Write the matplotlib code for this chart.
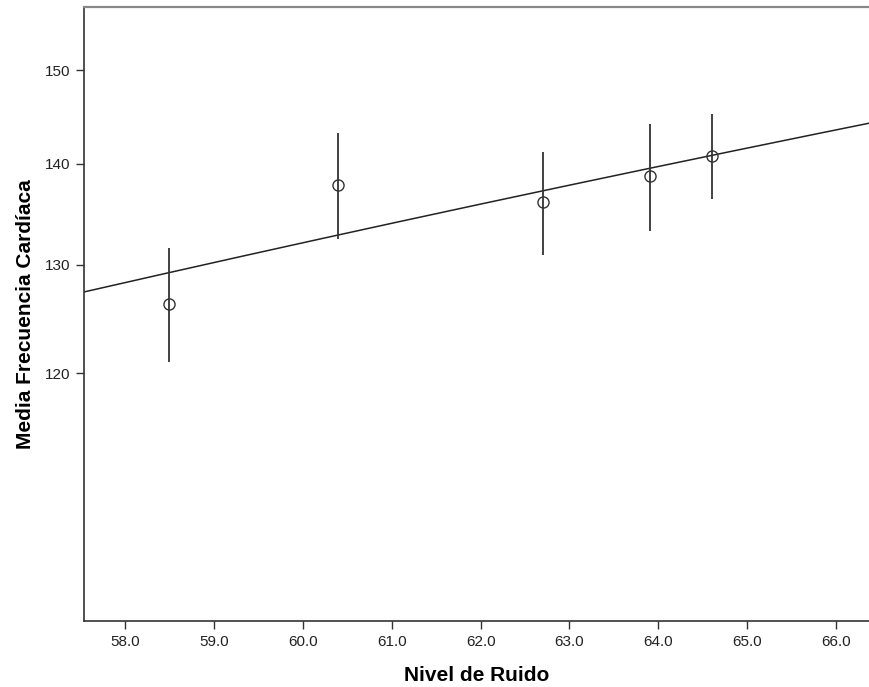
import matplotlib
matplotlib.use("Agg")
import matplotlib.pyplot as plt
import numpy as np
from matplotlib.ticker import FixedLocator, NullLocator, FixedFormatter

plt.rcParams['font.family'] = ['Liberation Sans', 'DejaVu Sans']

# datos
nivel_ruido = [58.5, 60.4, 62.7, 63.9, 64.6]
media_fc = [126.3, 137.8, 136.1, 138.8, 140.8]
ic_inf = [121.0, 132.5, 130.9, 133.3, 136.4]
ic_sup = [131.6, 143.2, 141.2, 144.2, 145.2]

x_ticks = [58.0, 59.0, 60.0, 61.0, 62.0, 63.0, 64.0, 65.0, 66.0]
y_ticks = [120, 130, 140, 150]

x = np.array(nivel_ruido)
y = np.array(media_fc)
err = [y - np.array(ic_inf), np.array(ic_sup) - y]

fig = plt.figure(figsize=(8.7, 6.87), dpi=100)
ax = fig.add_axes([0.0966, 0.0955, 0.9034, 0.894])

xmin, xmax = 57.54, 66.38
ax.set_xlim(xmin, xmax)
ax.set_yscale('log')
ax.set_ylim(100, 157.1)

# recta de ajuste lineal
b, a = np.polyfit(x, y, 1)
xx = np.linspace(xmin, xmax, 200)
ax.plot(xx, a + b * xx, color='#222222', lw=1.1, zorder=2)

ax.errorbar(x, y, yerr=err, fmt='o', mfc='none', mec='#333333', mew=1.0,
            ms=8, ecolor='#333333', elinewidth=1.3, capsize=0, zorder=3)

ax.yaxis.set_major_locator(FixedLocator(y_ticks))
ax.yaxis.set_major_formatter(FixedFormatter([str(t) for t in y_ticks]))
ax.yaxis.set_minor_locator(NullLocator())
ax.set_xticks(x_ticks)
ax.set_xticklabels([f"{t:.1f}" for t in x_ticks])

ax.tick_params(axis='both', direction='out', length=6, width=1.0,
               color='#333333', labelsize=11, labelcolor='#222222', pad=4)

for s in ['left', 'bottom']:
    ax.spines[s].set_color('#333333')
    ax.spines[s].set_linewidth(1.2)
ax.spines['top'].set_color('#888888')
ax.spines['top'].set_linewidth(1.6)
ax.spines['right'].set_visible(False)

ax.set_xlabel("Nivel de Ruido", fontsize=15, fontweight='bold', labelpad=12)
ax.set_ylabel("Media Frecuencia Cardíaca", fontsize=15, fontweight='bold', labelpad=7)

plt.savefig("out.png", dpi=100)
